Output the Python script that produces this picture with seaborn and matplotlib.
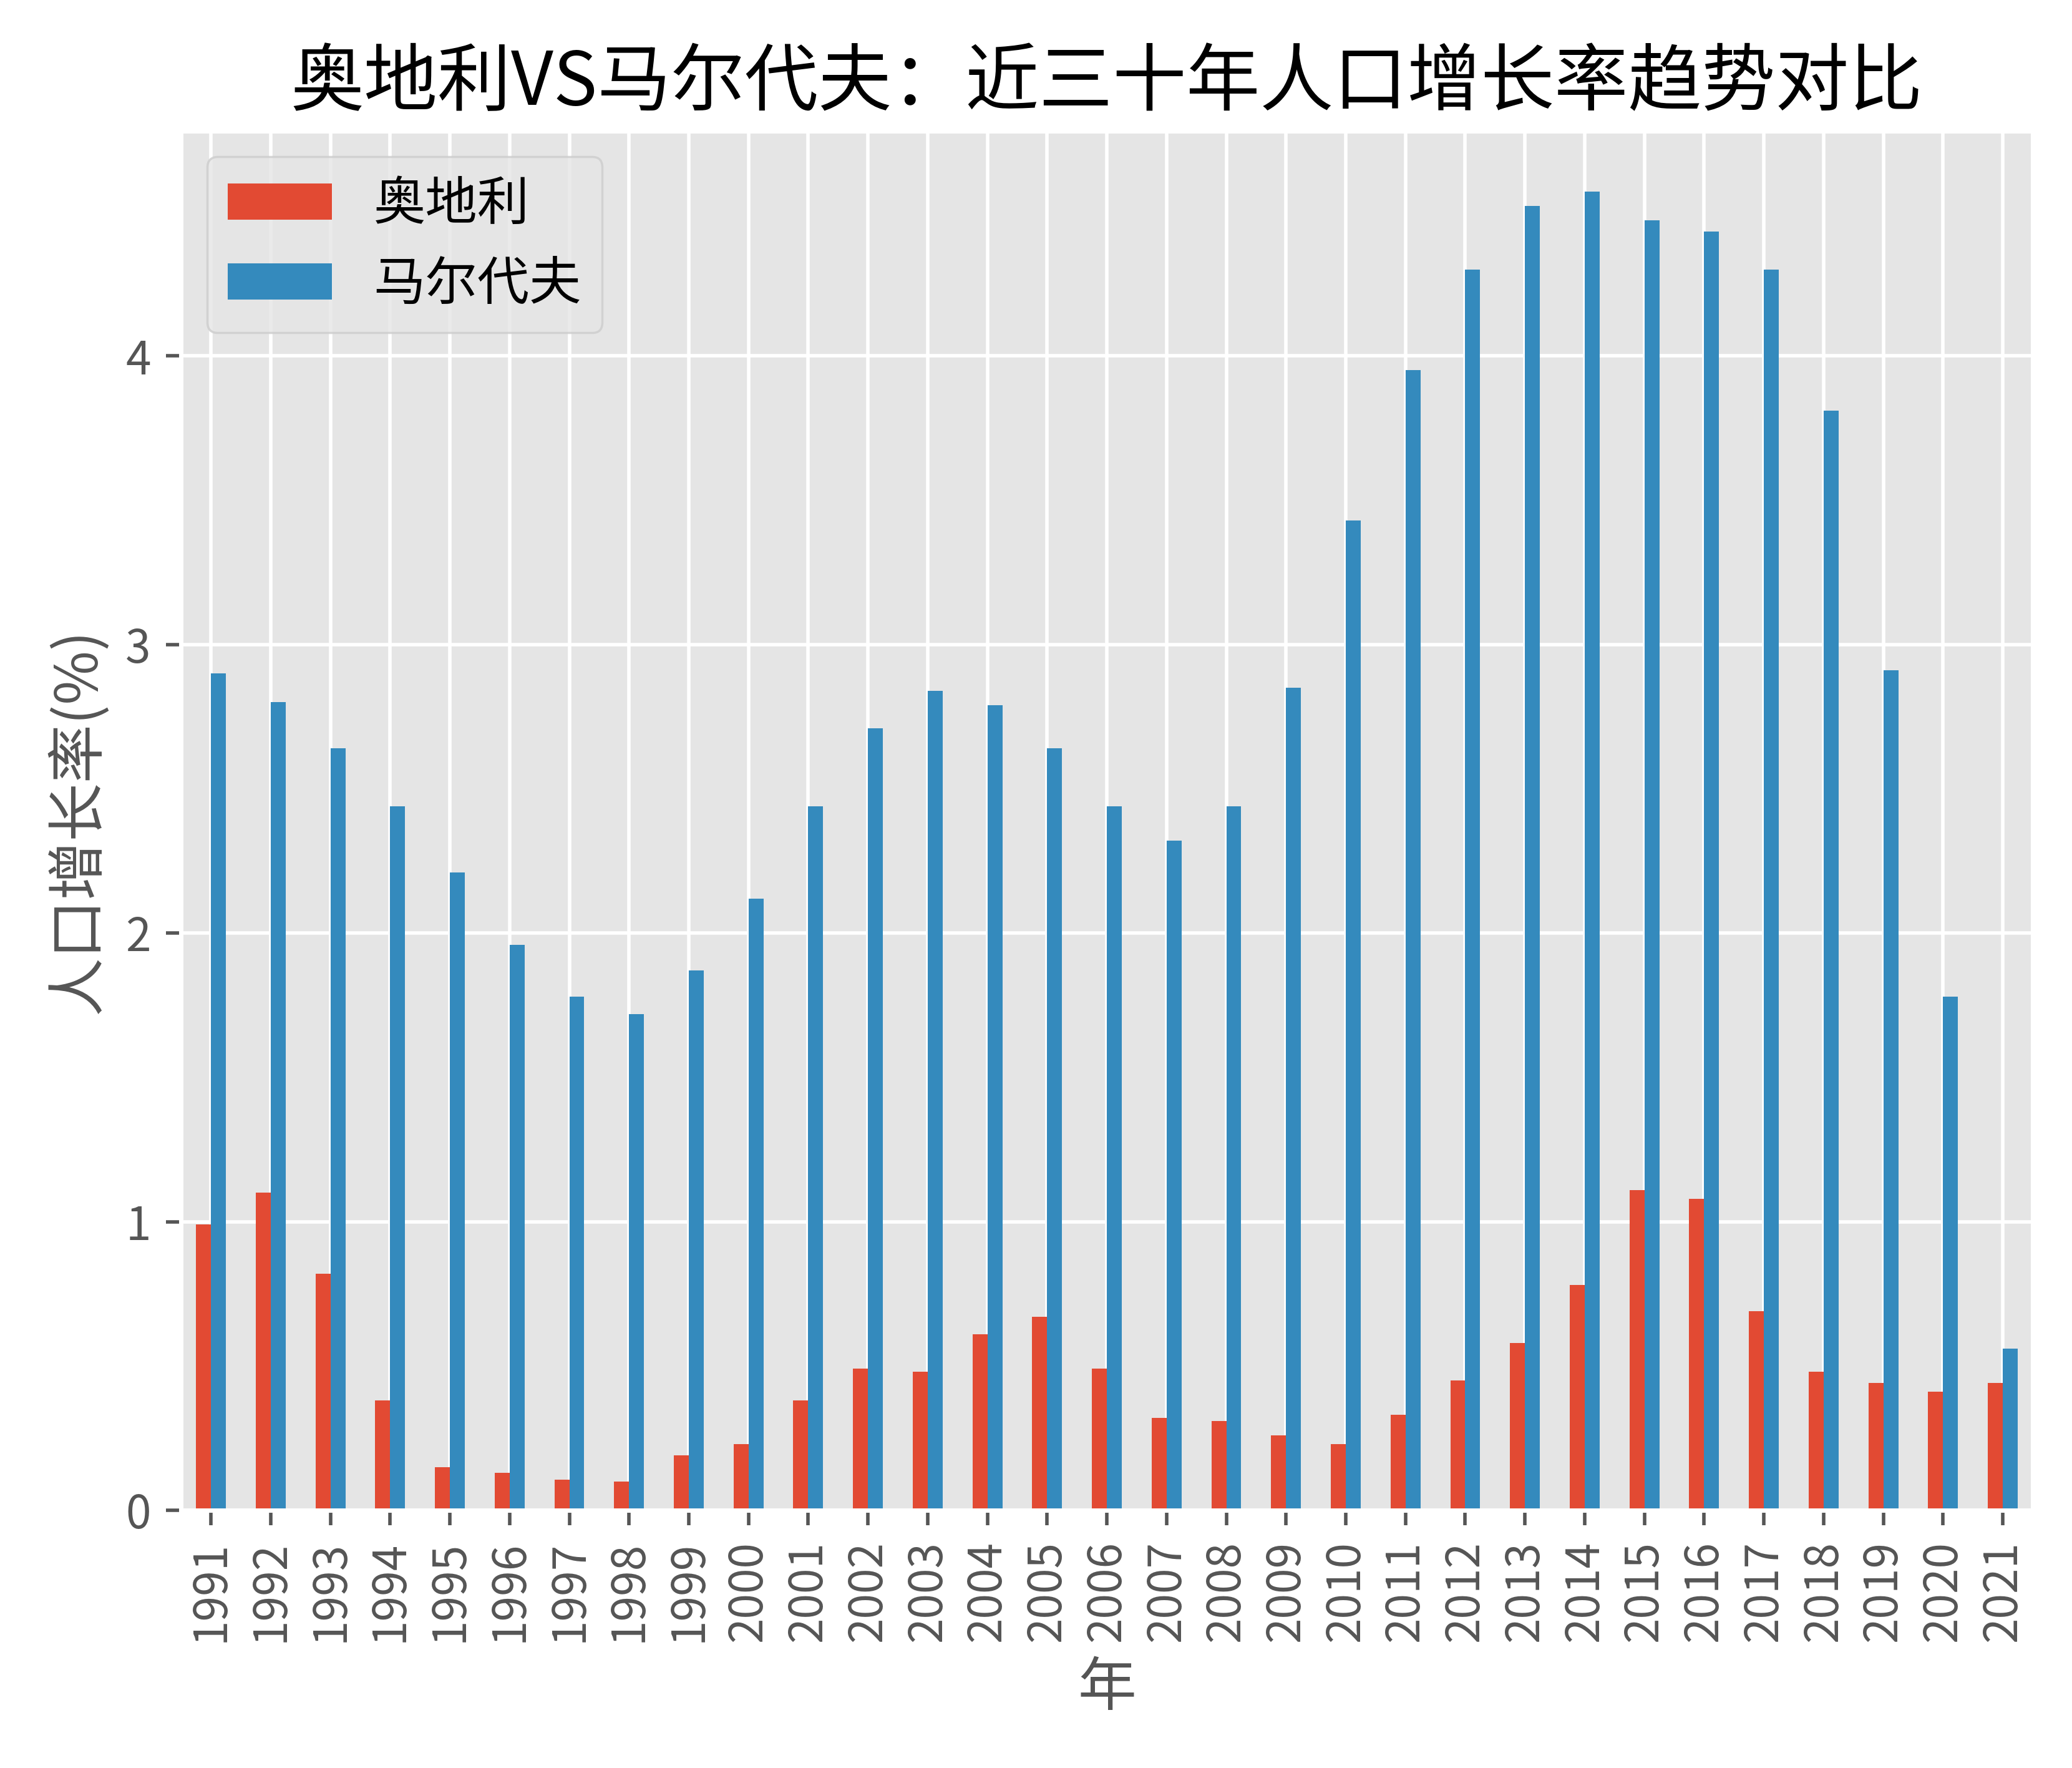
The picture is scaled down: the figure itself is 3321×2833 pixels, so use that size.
import pandas as pd
import matplotlib.pyplot as plt
import seaborn as sns

# Population growth rate (%), 1991-2021
years = [str(y) for y in range(1991, 2022)]
austria = [0.99, 1.10, 0.82, 0.38, 0.15, 0.13, 0.105, 0.10, 0.19, 0.23,
           0.38, 0.49, 0.48, 0.61, 0.67, 0.49, 0.32, 0.31, 0.26, 0.23,
           0.33, 0.45, 0.58, 0.78, 1.11, 1.08, 0.69, 0.48, 0.44, 0.41, 0.44]
maldives = [2.90, 2.80, 2.64, 2.44, 2.21, 1.96, 1.78, 1.72, 1.87, 2.12,
            2.44, 2.71, 2.84, 2.79, 2.64, 2.44, 2.32, 2.44, 2.85, 3.43,
            3.95, 4.30, 4.52, 4.57, 4.47, 4.43, 4.30, 3.81, 2.91, 1.78, 0.56]
countries = ['奥地利', '马尔代夫']

df = pd.DataFrame({'年': years, countries[0]: austria, countries[1]: maldives})
long_df = df.melt(id_vars='年', var_name='国家', value_name='增长率')

plt.style.use('ggplot')
plt.rcParams['font.family'] = ['Noto Sans CJK SC', 'DejaVu Sans']
plt.rcParams['axes.unicode_minus'] = False

fig = plt.figure(figsize=(3321 / 500, 2833 / 500), dpi=500)
ax = fig.add_axes([0.0874, 0.1458, 0.8936, 0.7802])

sns.barplot(data=long_df, x='年', y='增长率', hue='国家', ax=ax,
            palette=['#E24A33', '#348ABD'], width=0.5, saturation=1)

ax.set_title('奥地利VS马尔代夫：近三十年人口增长率趋势对比', fontsize=17, color='black')
ax.set_xlabel('年', fontsize=13.5)
ax.set_ylabel('人口增长率(%)', fontsize=13.5)
ax.tick_params(axis='x', labelrotation=90, labelsize=10.5)
ax.tick_params(axis='y', labelsize=10.5)
ax.set_yticks([0, 1, 2, 3, 4])
ax.set_xlim(-0.5, len(years) - 0.5)
ax.set_ylim(0, 4.78)
ax.grid(True, axis='both', color='white')
ax.set_axisbelow(True)
ax.legend(title=None, loc='upper left', fontsize=12)

fig.savefig('out.png', dpi=500)
